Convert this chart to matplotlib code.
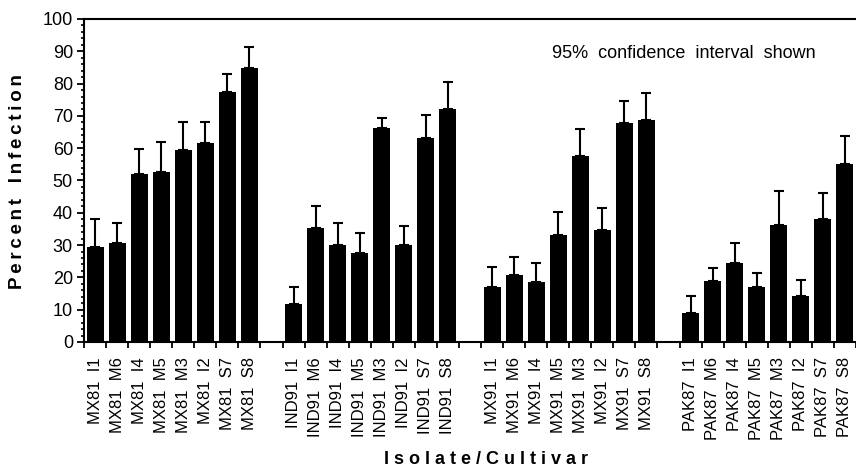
import matplotlib
matplotlib.use("Agg")
import matplotlib.pyplot as plt
from matplotlib.ticker import MultipleLocator
import numpy as np

plt.rcParams['font.family'] = ['Liberation Sans', 'DejaVu Sans']

# isolates (groups) and cultivars (bars inside each group)
isolates = ["MX81", "IND91", "MX91", "PAK87"]
cultivars = ["I1", "M6", "I4", "M5", "M3", "I2", "S7", "S8"]

# percent infection, one list per isolate
mx81 = [29.4, 30.5, 52.0, 52.5, 59.3, 61.5, 77.4, 84.8]
ind91 = [11.7, 35.2, 30.1, 27.4, 66.1, 30.1, 63.1, 72.1]
mx91 = [16.9, 20.6, 18.5, 33.2, 57.6, 34.6, 67.7, 68.7]
pak87 = [9.0, 18.8, 24.6, 16.9, 36.1, 14.2, 38.2, 55.0]

# upper end of the 95% confidence interval
mx81_hi = [38.2, 36.7, 59.6, 61.8, 68.1, 68.1, 83.0, 91.4]
ind91_hi = [16.9, 42.1, 36.7, 33.6, 69.2, 35.9, 70.3, 80.5]
mx91_hi = [23.1, 26.2, 24.5, 40.4, 66.0, 41.4, 74.6, 77.1]
pak87_hi = [14.2, 22.9, 30.8, 21.4, 46.9, 19.1, 46.0, 63.7]

values = [mx81, ind91, mx91, pak87]
uppers = [mx81_hi, ind91_hi, mx91_hi, pak87_hi]


def spaced(word, sep="\u2009"):
    # rough letter spacing, the scan uses tracked type
    return sep.join(word)


fig = plt.figure(figsize=(8.56, 4.69), dpi=100)
ax = fig.add_axes([84 / 856, 1 - 342 / 469, 772 / 856, 323 / 469])

centers = []
labels = []
heights = []
errs = []
for g, iso in enumerate(isolates):
    for j, cv in enumerate(cultivars):
        centers.append(g * 9 + j + 0.5)
        labels.append(f"{iso}  {cv}")
        heights.append(values[g][j])
        errs.append(uppers[g][j] - values[g][j])

centers = np.array(centers)
heights = np.array(heights)
errs = np.array(errs)

ax.errorbar(centers, heights, yerr=[np.zeros_like(errs), errs], fmt='none',
            ecolor='black', elinewidth=1.5, capsize=3.5, capthick=1.5, zorder=1)
ax.bar(centers, heights, width=0.77, color='black', zorder=2)

ax.set_xlim(0, 35)
ax.set_ylim(0, 100)

# x: plain ticks on slot boundaries, labels under bars
ax.set_xticks(np.arange(0, 36))
ax.set_xticklabels([])
ax.set_xticks(centers, labels, minor=True)
ax.tick_params(axis='x', which='major', direction='out', length=4, width=1.3)
ax.tick_params(axis='x', which='minor', length=0, pad=11, labelsize=12,
               labelrotation=90)

ax.yaxis.set_major_locator(MultipleLocator(10))
ax.yaxis.set_minor_locator(MultipleLocator(2))
ax.tick_params(axis='y', which='major', direction='out', length=5, width=1.3,
               labelsize=13, pad=3)
ax.tick_params(axis='y', which='minor', direction='out', length=2.5, width=1.2)

ax.spines['right'].set_visible(False)
for s in ['left', 'top', 'bottom']:
    ax.spines[s].set_linewidth(1.5)

fig.text(18 / 856, 1 - 182 / 469,
         spaced("Percent") + "   " + spaced("Infection"),
         rotation=90, fontsize=13.5, fontweight='bold', ha='center', va='center')
fig.text(486 / 856, 1 - 459 / 469, "I s o l a t e / C u l t i v a r",
         fontsize=13, fontweight='bold', ha='center', va='center')
fig.text(684 / 856, 1 - 54 / 469, "95%  confidence  interval  shown",
         fontsize=13, ha='center', va='center')

fig.savefig("out.png", dpi=100)
